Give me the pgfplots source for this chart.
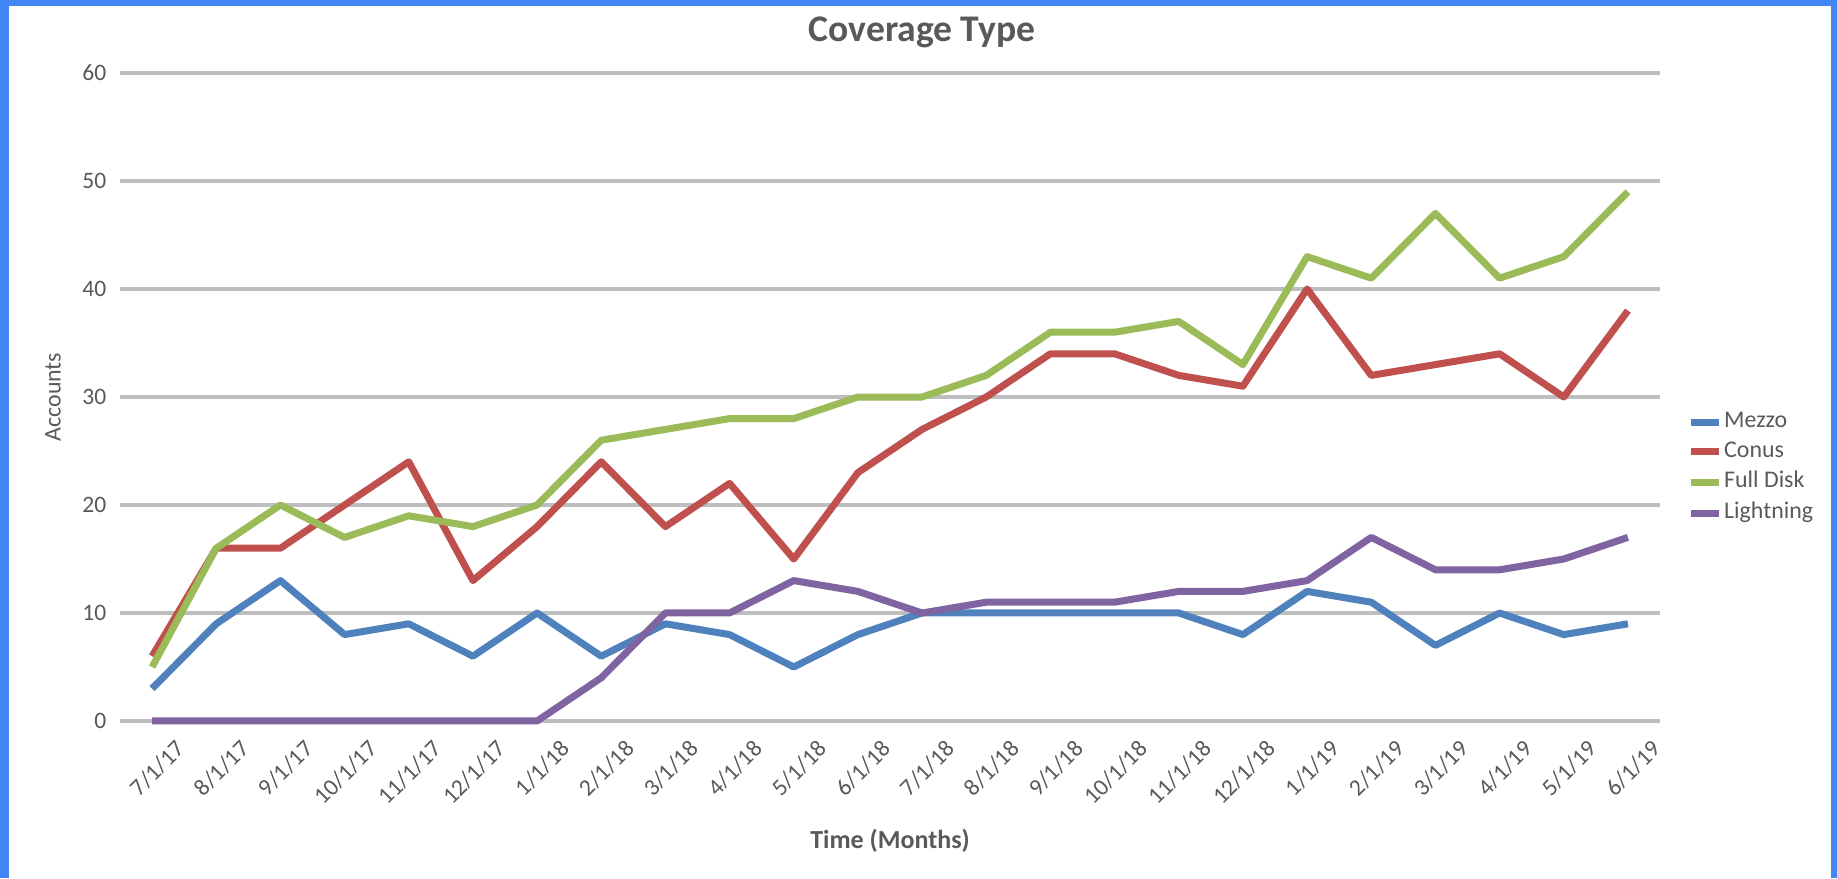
\documentclass[border=0pt]{standalone}
\usepackage{fontspec}
\setmainfont{Carlito}
\usepackage{pgfplots}
\pgfplotsset{compat=1.18}
\usepackage{pgfplotstable}

\definecolor{mezzo}{HTML}{4F81BD}
\definecolor{conus}{HTML}{C0504D}
\definecolor{fulldisk}{HTML}{9BBB59}
\definecolor{lightning}{HTML}{8064A2}
\definecolor{txt}{HTML}{595959}
\definecolor{gridgray}{HTML}{BEBEBE}
\definecolor{framebl}{HTML}{4285F4}

% Monthly account counts per coverage type
\pgfplotstableread{
idx date     mezzo conus full lightning
0   7/1/17   3     6     5    0
1   8/1/17   9     16    16   0
2   9/1/17   13    16    20   0
3   10/1/17  8     20    17   0
4   11/1/17  9     24    19   0
5   12/1/17  6     13    18   0
6   1/1/18   10    18    20   0
7   2/1/18   6     24    26   4
8   3/1/18   9     18    27   10
9   4/1/18   8     22    28   10
10  5/1/18   5     15    28   13
11  6/1/18   8     23    30   12
12  7/1/18   10    27    30   10
13  8/1/18   10    30    32   11
14  9/1/18   10    34    36   11
15  10/1/18  10    34    36   11
16  11/1/18  10    32    37   12
17  12/1/18  8     31    33   12
18  1/1/19   12    40    43   13
19  2/1/19   11    32    41   17
20  3/1/19   7     33    47   14
21  4/1/19   10    34    41   14
22  5/1/19   8     30    43   15
23  6/1/19   9     38    49   17
}\coverage

\begin{document}
\begin{tikzpicture}
\useasboundingbox (0,0) rectangle (183.7mm,87.8mm);
% page frame
\fill[framebl] (0,0) rectangle (183.7mm,87.8mm);
\fill[white] (0.9mm,0) rectangle (183.1mm,87.2mm);

\node[font=\bfseries\fontsize{10.7}{13}\selectfont, text=txt] at (92.2mm,84.6mm) {Coverage Type};

\begin{axis}[
  at={(12mm,15.7mm)}, anchor=south west,
  scale only axis, width=154mm, height=64.8mm,
  xmin=-0.5, xmax=23.5, ymin=0, ymax=60,
  ytick={0,10,...,60},
  xtick={0,...,23},
  xticklabels from table={\coverage}{date},
  axis line style={draw=none},
  major tick length=0pt,
  ymajorgrids,
  grid style={gridgray, line width=0.38mm},
  /pgf/number format/assume math mode=true,
  yticklabel style={font=\fontsize{6.7}{8}\selectfont, text=txt, anchor=east, inner sep=0pt, xshift=-1.3mm},
  xticklabel style={font=\fontsize{6.7}{8}\selectfont, text=txt, rotate=45, anchor=north east, inner sep=0pt, xshift=0.4mm, yshift=-2.8mm},
  xlabel={Time (Months)},
  xlabel style={font=\bfseries\fontsize{7.4}{9}\selectfont, text=txt, at={(axis description cs:0.5,0)}, anchor=center, yshift=-12mm},
  ylabel={Accounts},
  ylabel style={font=\fontsize{6.8}{8}\selectfont, text=txt, at={(axis description cs:-0.0435,0.5)}, anchor=center},
  legend style={at={(axis description cs:1.0175,0.3904)}, anchor=west, draw=none, fill=none, inner sep=0pt,
    font=\fontsize{6.8}{8}\selectfont, text=txt, row sep=0.6mm,
    nodes={inner sep=0.15mm}},
  legend cell align=left,
  legend image code/.code={\draw[#1, line cap=butt] (0mm,0mm) -- (2.8mm,0mm);},
  every axis plot/.append style={line width=0.7mm, line join=round},
  clip=false,
]
\addplot[mezzo] table[x=idx, y=mezzo] {\coverage};
\addlegendentry{Mezzo}
\addplot[conus] table[x=idx, y=conus] {\coverage};
\addlegendentry{Conus}
\addplot[fulldisk] table[x=idx, y=full] {\coverage};
\addlegendentry{Full Disk}
\addplot[lightning] table[x=idx, y=lightning] {\coverage};
\addlegendentry{Lightning}
\end{axis}
\end{tikzpicture}
\end{document}
